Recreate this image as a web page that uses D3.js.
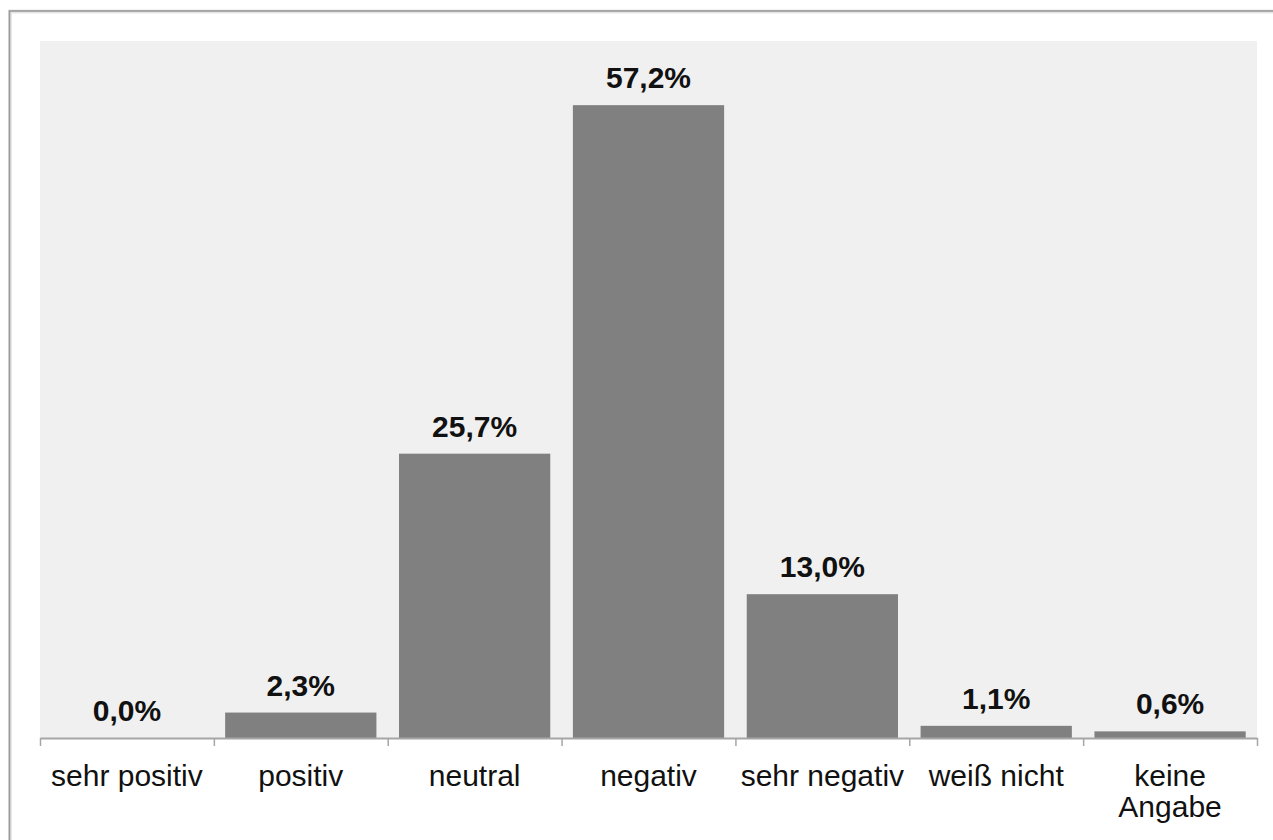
<!DOCTYPE html>
<html>
<head>
<meta charset="utf-8">
<script src="https://cdn.jsdelivr.net/npm/d3@7"></script>
<style>
  html, body { margin: 0; padding: 0; background: #ffffff; }
  svg { display: block; font-family: "Liberation Sans", Arial, sans-serif; }
</style>
</head>
<body>
<svg id="chart" width="1273" height="840"></svg>
<script>
// Survey answers and their shares (percent)
const categories = ["sehr positiv", "positiv", "neutral", "negativ", "sehr negativ", "weiß nicht", "keine Angabe"];
const values = [0.0, 2.3, 25.7, 57.2, 13.0, 1.1, 0.6];
const valueLabels = ["0,0%", "2,3%", "25,7%", "57,2%", "13,0%", "1,1%", "0,6%"];
// Category labels broken into display lines
const categoryLines = [["sehr positiv"], ["positiv"], ["neutral"], ["negativ"], ["sehr negativ"], ["weiß nicht"], ["keine", "Angabe"]];

const svg = d3.select("#chart");
const W = 1273, H = 840;

const plot = { left: 40, right: 1257, top: 41, bottom: 738 };

// Outer frame (runs off the right and bottom edges)
svg.append("rect")
  .attr("x", 10).attr("y", 11.5)
  .attr("width", W + 20).attr("height", H + 20)
  .attr("fill", "none")
  .attr("stroke", "#e6e6e6").attr("stroke-width", 4);
svg.append("rect")
  .attr("x", 9.5).attr("y", 11)
  .attr("width", W + 20).attr("height", H + 20)
  .attr("fill", "none")
  .attr("stroke", "#9a9a9a").attr("stroke-width", 1.6);

// Plot area background
svg.append("rect")
  .attr("x", plot.left).attr("y", plot.top)
  .attr("width", plot.right - plot.left).attr("height", plot.bottom - plot.top)
  .attr("fill", "#f0f0f0");

const x = d3.scaleBand()
  .domain(categories)
  .range([plot.left, plot.right])
  .paddingInner(0.13)
  .paddingOuter(0.065);

const y = d3.scaleLinear()
  .domain([0, 63])
  .range([plot.bottom, plot.top]);

// Bars
svg.append("g").selectAll("rect")
  .data(categories)
  .join("rect")
  .attr("x", d => x(d))
  .attr("width", x.bandwidth())
  .attr("y", (d, i) => y(values[i]))
  .attr("height", (d, i) => y(0) - y(values[i]))
  .attr("fill", "#808080");

// Value labels
svg.append("g").selectAll("text")
  .data(categories)
  .join("text")
  .attr("x", d => x(d) + x.bandwidth() / 2)
  .attr("y", (d, i) => y(values[i]) - 17)
  .attr("text-anchor", "middle")
  .attr("font-size", 30)
  .attr("font-weight", "bold")
  .attr("fill", "#111")
  .text((d, i) => valueLabels[i]);

// Category axis with ticks at the boundaries between categories
const edge = d3.scaleLinear().domain([0, categories.length]).range([plot.left, plot.right]);
const axis = svg.append("g")
  .attr("transform", `translate(0,${plot.bottom})`)
  .call(d3.axisBottom(edge)
    .tickValues(d3.range(categories.length + 1))
    .tickFormat("")
    .tickSize(8)
    .tickSizeOuter(0));
axis.select(".domain").attr("stroke", "#a6a6a6").attr("stroke-width", 2);
axis.selectAll(".tick line").attr("stroke", "#a6a6a6").attr("stroke-width", 1.5);

// Category labels
const lab = svg.append("g").selectAll("text")
  .data(categories)
  .join("text")
  .attr("x", d => x(d) + x.bandwidth() / 2)
  .attr("y", 786)
  .attr("text-anchor", "middle")
  .attr("font-size", 30)
  .attr("fill", "#111");
lab.selectAll("tspan")
  .data((d, i) => categoryLines[i].map((t, j) => ({ t, j, cx: x(d) + x.bandwidth() / 2 })))
  .join("tspan")
  .attr("x", d => d.cx)
  .attr("dy", d => d.j === 0 ? 0 : 31)
  .text(d => d.t);
</script>
</body>
</html>
